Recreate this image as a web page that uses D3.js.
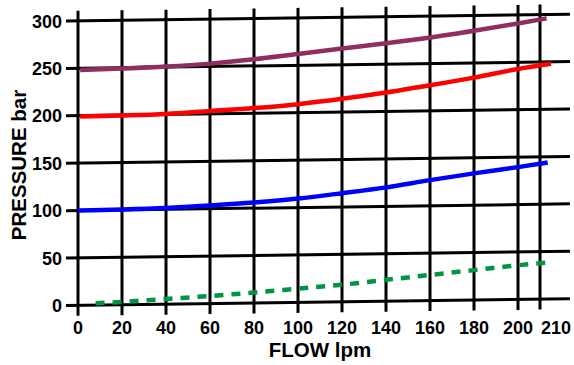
<!DOCTYPE html>
<html>
<head>
<meta charset="utf-8">
<script src="https://cdn.jsdelivr.net/npm/d3@7"></script>
<style>
  body { margin: 0; background: #fff; }
  svg { display: block; font-family: "Liberation Sans", Arial, sans-serif; }
</style>
</head>
<body>
<div id="chart"></div>
<script>
// values
var xTicks = [0, 20, 40, 60, 80, 100, 120, 140, 160, 180, 200, 210];
var yTicks = [0, 50, 100, 150, 200, 250, 300];

var purpleFlow = [1, 20, 40, 60, 80, 100, 120, 140, 160, 180, 200, 213];
var purpleBar = [248, 249, 250.5, 253, 257, 262, 267, 272, 277.5, 284, 291, 296];

var redFlow = [1, 20, 40, 60, 80, 100, 120, 140, 160, 180, 200, 215];
var redBar = [199, 199.5, 200.5, 203, 205.5, 209, 214, 220, 227, 234.5, 243, 248];

var blueFlow = [0, 20, 40, 60, 80, 100, 120, 140, 160, 180, 200, 213.5];
var blueBar = [100, 100.5, 101.5, 103.5, 106, 109.5, 114.5, 120, 127, 133.5, 139.5, 144];

var greenFlow = [8, 20, 40, 60, 80, 100, 120, 140, 160, 180, 200, 214];
var greenBar = [2, 3, 5.5, 8, 11, 14.5, 18, 22.5, 27, 31.5, 36, 38.5];

var width = 574, height = 365;

var svg = d3.select("#chart").append("svg")
  .attr("width", width)
  .attr("height", height);

var x = d3.scaleLinear().domain([0, 200]).range([78, 518]);
var y = d3.scaleLinear().domain([0, 300]).range([305.5, 21]);

// the grid in the picture leans up slightly to the right
var skewAngle = Math.atan(-0.0135) * 180 / Math.PI;
var plot = svg.append("g")
  .attr("transform", "translate(66,0) skewY(" + skewAngle + ") translate(-66,0)");

// horizontal grid lines
plot.selectAll(".hgrid")
  .data(yTicks)
  .enter()
  .append("line")
  .attr("class", "hgrid")
  .attr("x1", 66)
  .attr("x2", 570)
  .attr("y1", function(d) { return y(d); })
  .attr("y2", function(d) { return y(d); })
  .attr("stroke", "#000")
  .attr("stroke-width", 3);

// vertical grid lines
plot.selectAll(".vgrid")
  .data(xTicks)
  .enter()
  .append("line")
  .attr("class", "vgrid")
  .attr("x1", function(d) { return x(d); })
  .attr("x2", function(d) { return x(d); })
  .attr("y1", 11)
  .attr("y2", 316)
  .attr("stroke", "#000")
  .attr("stroke-width", 3);

var series = [
  { flow: purpleFlow, bar: purpleBar, color: "#8e2f60", dash: null },
  { flow: redFlow, bar: redBar, color: "#ff0000", dash: null },
  { flow: blueFlow, bar: blueBar, color: "#0000ff", dash: null },
  { flow: greenFlow, bar: greenBar, color: "#009444", dash: "9,8" }
];

var line = d3.line()
  .x(function(d) { return x(d[0]); })
  .y(function(d) { return y(d[1]); })
  .curve(d3.curveMonotoneX);

plot.selectAll(".curve")
  .data(series)
  .enter()
  .append("path")
  .attr("class", "curve")
  .attr("d", function(s) { return line(d3.zip(s.flow, s.bar)); })
  .attr("fill", "none")
  .attr("stroke", function(s) { return s.color; })
  .attr("stroke-width", 4.5)
  .attr("stroke-dasharray", function(s) { return s.dash; });

// tick labels
svg.selectAll(".ylabel")
  .data(yTicks)
  .enter()
  .append("text")
  .attr("class", "ylabel")
  .attr("x", 62)
  .attr("y", function(d) { return y(d) + 6.5; })
  .attr("text-anchor", "end")
  .style("font-size", "18px")
  .style("font-weight", "bold")
  .text(function(d) { return d; });

svg.selectAll(".xlabel")
  .data(xTicks)
  .enter()
  .append("text")
  .attr("class", "xlabel")
  .attr("x", function(d) { return d === 210 ? x(d) + 16 : x(d); })
  .attr("y", 333.5)
  .attr("text-anchor", "middle")
  .style("font-size", "18px")
  .style("font-weight", "bold")
  .text(function(d) { return d; });

// axis titles
svg.append("text")
  .attr("x", 320)
  .attr("y", 357)
  .attr("text-anchor", "middle")
  .style("font-size", "20.5px")
  .style("font-weight", "bold")
  .text("FLOW lpm");

svg.append("text")
  .attr("transform", "translate(25.5,165) rotate(-90)")
  .attr("text-anchor", "middle")
  .style("font-size", "20.5px")
  .style("font-weight", "bold")
  .text("PRESSURE bar");
</script>
</body>
</html>
